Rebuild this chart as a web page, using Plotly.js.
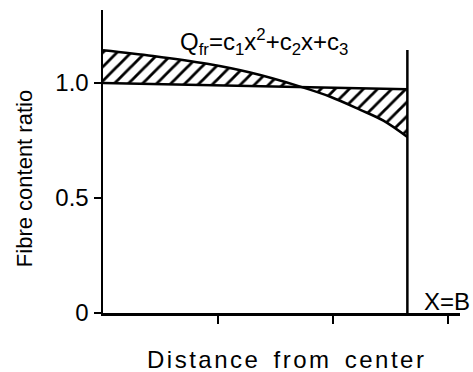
<!DOCTYPE html>
<html>
<head>
<meta charset="utf-8">
<script src="https://cdn.plot.ly/plotly-3.0.1.min.js"></script>
<style>html,body{margin:0;padding:0;background:#fff;}#chart{width:473px;height:372px;}</style>
</head>
<body>
<div id="chart"></div>
<script>
// Distance from center (tick units) and fibre content ratio
var curveX = [0.0, 0.435, 0.904, 1.278, 1.713, 1.974, 2.235, 2.435, 2.643];
var curveY = [1.142, 1.117, 1.083, 1.045, 0.984, 0.940, 0.883, 0.836, 0.765];
var refX = [0.0, 2.643];
var refY = [1.0, 0.972];
var boundaryX = [2.643, 2.643];
var boundaryY = [0.0, 1.143];
var yTickVals = [0, 0.5, 1.0];
var yTickText = ["0", "0.5", "1.0"];
var xTickVals = [1, 2, 3];

var font = "Liberation Sans, Arial, sans-serif";

var traces = [
  {x: refX, y: refY, mode: "lines", line: {color: "#000", width: 2.5}, hoverinfo: "skip", showlegend: false},
  {x: curveX, y: curveY, mode: "lines", line: {color: "#000", width: 2.5, shape: "spline"},
   fill: "tonexty", fillcolor: "rgba(0,0,0,0)",
   fillpattern: {shape: "/", size: 10, solidity: 0.28, fgcolor: "#000", bgcolor: "#fff", fillmode: "replace"},
   hoverinfo: "skip", showlegend: false},
  {x: boundaryX, y: boundaryY, mode: "lines", line: {color: "#000", width: 2.5}, hoverinfo: "skip", showlegend: false}
];

var layout = {
  width: 473, height: 372,
  margin: {l: 103, r: 13, t: 10, b: 59},
  paper_bgcolor: "#fff", plot_bgcolor: "#fff",
  showlegend: false,
  xaxis: {
    range: [0, 3.1], showgrid: false, zeroline: false,
    showline: true, linecolor: "#000", linewidth: 2.5,
    ticks: "outside", ticklen: 8, tickwidth: 2, tickcolor: "#000",
    tickvals: xTickVals, showticklabels: false
  },
  yaxis: {
    range: [0, 1.317], showgrid: false, zeroline: false,
    showline: true, linecolor: "#000", linewidth: 2.5,
    ticks: "outside", ticklen: 7, tickwidth: 2, tickcolor: "#000",
    tickvals: yTickVals, ticktext: yTickText, ticklabelstandoff: 0,
    tickfont: {family: font, size: 24, color: "#000"}
  },
  annotations: [
    {x: 0.513, y: -0.152, xref: "paper", yref: "paper", xanchor: "center", yanchor: "middle", showarrow: false,
     text: "Distance from center", font: {family: font, size: 24, color: "#000"}},
    {x: -0.221, y: 0.442, xref: "paper", yref: "paper", xanchor: "center", yanchor: "middle", showarrow: false, textangle: -90,
     text: "Fibre content ratio", font: {family: font, size: 22, color: "#000"}},
    {x: 1.396, y: 1.178, xref: "x", yref: "y", xanchor: "center", yanchor: "middle", showarrow: false,
     text: "Q<sub>fr</sub>=c<sub>1</sub>x<sup>2</sup>+c<sub>2</sub>x+c<sub>3</sub>",
     font: {family: font, size: 24, color: "#000"}},
    {x: 2.77, y: 0.048, xref: "x", yref: "y", xanchor: "left", yanchor: "middle", showarrow: false,
     text: "X=B", font: {family: font, size: 24, color: "#000"}}
  ]
};

Plotly.newPlot("chart", traces, layout, {staticPlot: true}).then(function () {
  document.querySelectorAll("#chart .annotation-text").forEach(function (t) {
    if (t.textContent === "Distance from center") {
      t.style.letterSpacing = "2.5px";
      t.style.wordSpacing = "4px";
    }
  });
});
</script>
</body>
</html>
